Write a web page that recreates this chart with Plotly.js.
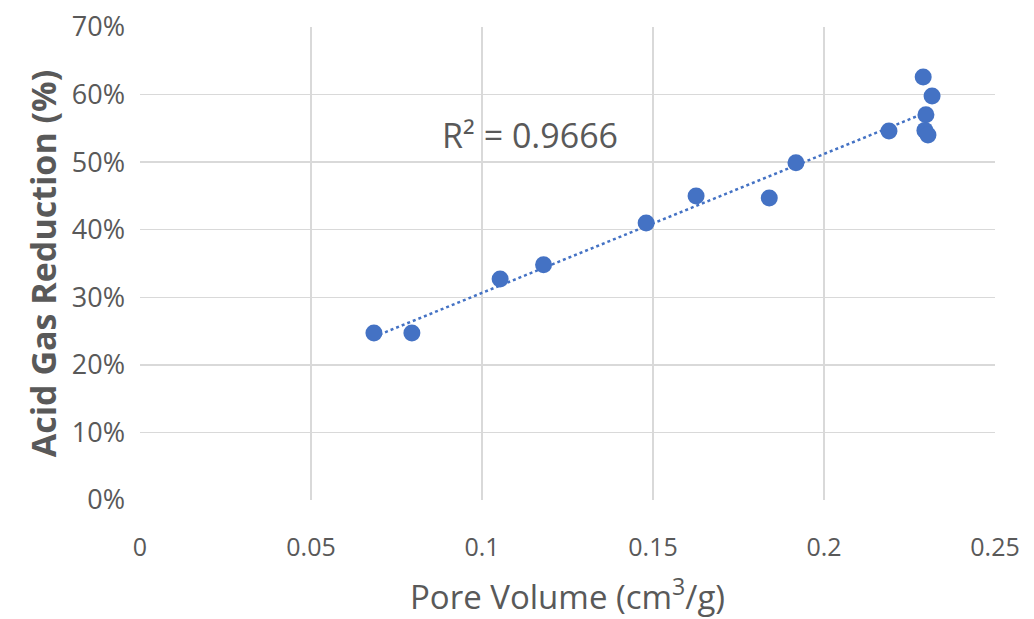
<!DOCTYPE html>
<html>
<head>
<meta charset="utf-8">
<script src="https://cdn.plot.ly/plotly-3.0.1.min.js"></script>
<style>html,body{margin:0;padding:0;background:#fff;}#chart{width:1034px;height:619px;}</style>
</head>
<body>
<div id="chart"></div>
<script>
// Pore volume (cm3/g)
const poreVolume = [0.0684, 0.0795, 0.1053, 0.118, 0.148, 0.1626, 0.184, 0.1918, 0.219, 0.229, 0.2316, 0.2298, 0.2295, 0.2304];
// Acid gas reduction (%)
const acidGasReduction = [24.7, 24.7, 32.7, 34.8, 41.0, 45.0, 44.7, 49.9, 54.6, 62.6, 59.8, 57.0, 54.7, 54.0];
const xTickVals = [0, 0.05, 0.1, 0.15, 0.2, 0.25];
const xTickText = ['0', '0.05', '0.1', '0.15', '0.2', '0.25'];
const yTickVals = [0, 10, 20, 30, 40, 50, 60, 70];
const yTickText = ['0%', '10%', '20%', '30%', '40%', '50%', '60%', '70%'];
const rSquaredLabel = 'R² = 0.9666';

// linear least-squares trendline
const n = poreVolume.length;
const mx = poreVolume.reduce((a, b) => a + b, 0) / n;
const my = acidGasReduction.reduce((a, b) => a + b, 0) / n;
let sxy = 0, sxx = 0;
for (let i = 0; i < n; i++) { sxy += (poreVolume[i] - mx) * (acidGasReduction[i] - my); sxx += (poreVolume[i] - mx) ** 2; }
const slope = sxy / sxx, intercept = my - slope * mx;
const xMin = Math.min(...poreVolume), xMax = Math.max(...poreVolume);
const trendX = [xMin, xMax];
const trendY = trendX.map(v => intercept + slope * v);

const font = "'Open Sans', sans-serif";
const gray = '#595959';
const blue = '#4472C4';

const traces = [
  { x: trendX, y: trendY, mode: 'lines', line: { color: blue, width: 2.5, dash: 'dot' }, hoverinfo: 'skip' },
  { x: poreVolume, y: acidGasReduction, mode: 'markers', marker: { color: blue, size: 17 } }
];

const layout = {
  width: 1034, height: 619,
  margin: { l: 140, r: 39, t: 27, b: 119 },
  paper_bgcolor: '#fff', plot_bgcolor: '#fff',
  showlegend: false,
  font: { family: font, color: gray },
  xaxis: {
    range: [0, 0.25], tickvals: xTickVals, ticktext: xTickText,
    showgrid: true, gridcolor: '#d9d9d9', gridwidth: 1.5, zeroline: false,
    showline: false, ticks: '', tickfont: { size: 25, color: gray },
    ticklabelstandoff: 30,
    title: { text: 'Pore Volume (cm<sup>3</sup>/g)', font: { size: 33, color: gray }, standoff: 24 }
  },
  yaxis: {
    range: [0, 70], tickvals: yTickVals, ticktext: yTickText,
    showgrid: true, gridcolor: '#d9d9d9', gridwidth: 1.5, zeroline: false,
    showline: false, ticks: '', tickfont: { size: 27, color: gray },
    ticklabelstandoff: 14,
    title: { text: '<b>Acid Gas Reduction (%)</b>', font: { size: 34, color: gray }, standoff: 4 }
  },
  annotations: [{
    x: 0.0877, y: 54, xref: 'x', yref: 'y', xanchor: 'left', yanchor: 'middle',
    text: rSquaredLabel, showarrow: false, font: { size: 34, color: gray, family: font }
  }]
};

Plotly.newPlot('chart', traces, layout, { displayModeBar: false, staticPlot: true });
</script>
</body>
</html>
